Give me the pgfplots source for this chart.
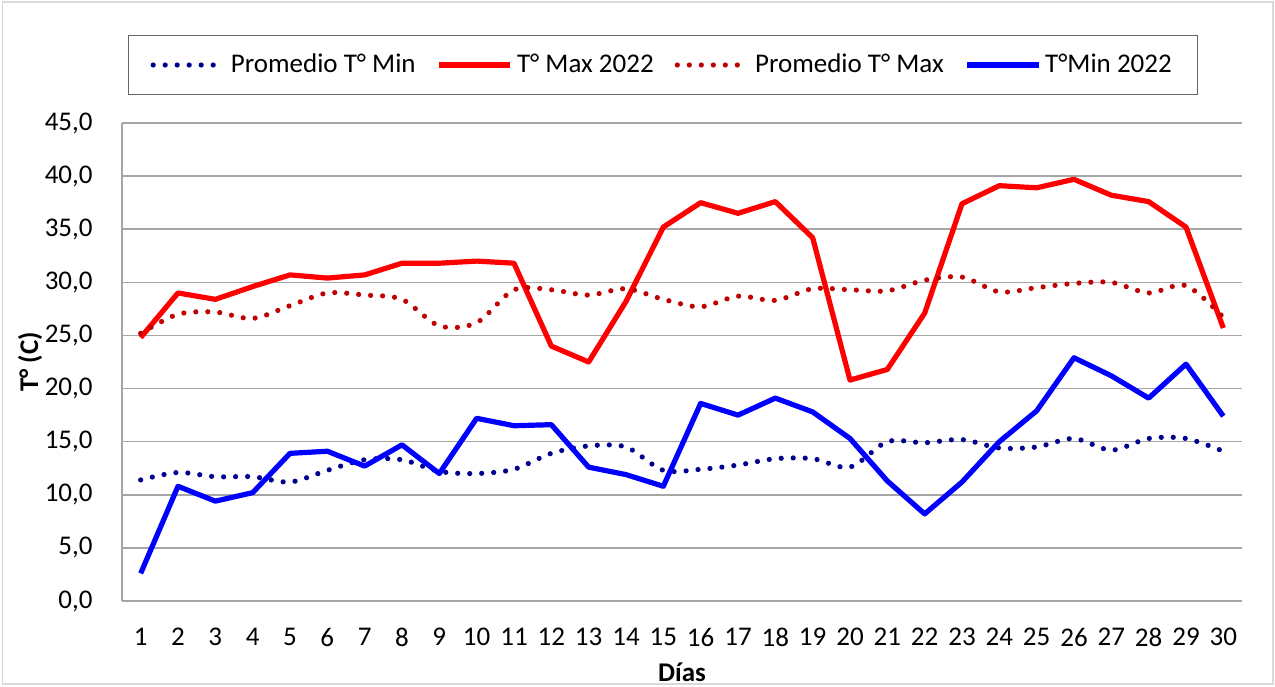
\documentclass[border=0pt]{standalone}
\usepackage{pgfplots}
\pgfplotsset{compat=1.18}
\usepackage{fontspec}
\setmainfont{Carlito}
\definecolor{navyd}{HTML}{000090}
\definecolor{redd}{HTML}{C00000}
\definecolor{gridg}{HTML}{A6A6A6}
\definecolor{frameg}{HTML}{D9D9D9}
\begin{document}
\fontsize{13.5}{16}\selectfont
\begin{tikzpicture}
\useasboundingbox (-61pt,-42.5pt) rectangle (576.5pt,300.5pt);
\draw[frameg, line width=0.8pt] (-59.8pt,-41.5pt) rectangle (575.5pt,299.5pt);
\begin{axis}[
  at={(0,0)}, anchor=south west,
  scale only axis, width=560pt, height=239pt,
  xmin=0.5, xmax=30.5, ymin=0, ymax=45,
  xtick={1,...,30}, ytick={0,5,...,45},
  axis lines=left, axis line style={-, gridg, line width=0.8pt},
  major tick length=0pt,
  ymajorgrids, grid style={gridg, line width=0.8pt},
  /pgf/number format/.cd, fixed, fixed zerofill, precision=1, use comma, assume math mode=true,
  /pgfplots/.cd,
  xticklabel={\pgfmathprintnumber[int detect]{\tick}},
  xticklabel style={font=\fontsize{13.5}{16}\selectfont, yshift=-9pt},
  yticklabel style={font=\fontsize{13.5}{16}\selectfont, xshift=-10pt},
  xlabel={\textbf{Días}}, ylabel={\textbf{T° (C)}},
  xlabel style={at={(axis description cs:0.5,-0.1485)}, anchor=center, font=\fontsize{13.5}{16}\selectfont},
  ylabel style={at={(axis description cs:-0.082,0.5)}, anchor=center, font=\fontsize{13.5}{16}\selectfont},
  legend columns=4,
  legend style={at={(rel axis cs:0,1)}, anchor=north west, xshift=3pt, yshift=44pt,
    draw=gray!80!black, line width=0.6pt, inner xsep=11pt, inner ysep=7pt,
    font=\fontsize{13.5}{16}\selectfont,
    /tikz/every even column/.append style={column sep=8.5pt}},
  legend image code/.code={\draw[#1] (0cm,0cm) -- (1.25cm,0cm);},
  dotline/.style={line width=2.6pt, line cap=round, dash pattern=on 0pt off 6pt},
]
% Promedio T Min
\addplot[navyd, dotline, smooth] coordinates {
(1,11.4)(2,12.1)(3,11.7)(4,11.7)(5,11.2)(6,12.3)(7,13.3)(8,13.3)(9,12.2)(10,12.0)
(11,12.4)(12,13.9)(13,14.6)(14,14.5)(15,12.3)(16,12.4)(17,12.8)(18,13.4)(19,13.4)(20,12.6)
(21,15.0)(22,14.9)(23,15.2)(24,14.4)(25,14.5)(26,15.3)(27,14.2)(28,15.3)(29,15.3)(30,14.1)};
\addlegendentry{Promedio T° Min}
% T Max 2022
\addplot[red, line width=2.6pt, line join=round] coordinates {
(1,24.8)(2,29.0)(3,28.4)(4,29.6)(5,30.7)(6,30.4)(7,30.7)(8,31.8)(9,31.8)(10,32.0)
(11,31.8)(12,24.0)(13,22.5)(14,28.2)(15,35.2)(16,37.5)(17,36.5)(18,37.6)(19,34.2)(20,20.8)
(21,21.8)(22,27.1)(23,37.4)(24,39.1)(25,38.9)(26,39.7)(27,38.2)(28,37.6)(29,35.2)(30,25.7)};
\addlegendentry{T° Max 2022}
% Promedio T Max
\addplot[redd, dotline, smooth] coordinates {
(1,25.2)(2,27.0)(3,27.2)(4,26.6)(5,27.8)(6,29.0)(7,28.8)(8,28.4)(9,25.9)(10,26.2)
(11,29.3)(12,29.3)(13,28.8)(14,29.4)(15,28.4)(16,27.7)(17,28.7)(18,28.3)(19,29.4)(20,29.3)
(21,29.2)(22,30.2)(23,30.5)(24,29.1)(25,29.5)(26,29.9)(27,30.0)(28,29.0)(29,29.7)(30,26.7)};
\addlegendentry{Promedio T° Max}
% T Min 2022
\addplot[blue, line width=2.6pt, line join=round] coordinates {
(1,2.6)(2,10.8)(3,9.4)(4,10.2)(5,13.9)(6,14.1)(7,12.7)(8,14.7)(9,12.0)(10,17.2)
(11,16.5)(12,16.6)(13,12.6)(14,11.9)(15,10.8)(16,18.6)(17,17.5)(18,19.1)(19,17.8)(20,15.3)
(21,11.3)(22,8.2)(23,11.2)(24,15.0)(25,17.9)(26,22.9)(27,21.2)(28,19.1)(29,22.3)(30,17.4)};
\addlegendentry{T°Min 2022}
\end{axis}
\end{tikzpicture}
\end{document}
